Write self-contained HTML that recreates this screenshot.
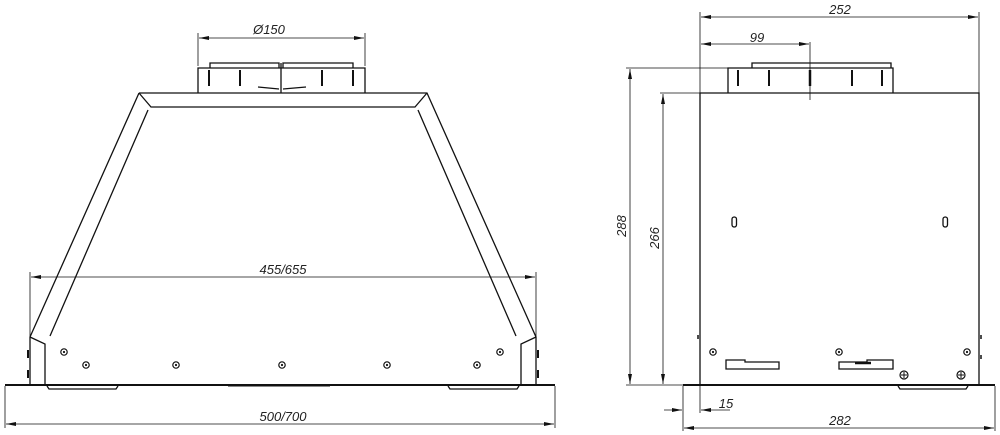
<!DOCTYPE html>
<html><head><meta charset="utf-8"><style>
html,body{margin:0;padding:0;background:#fff}
svg{display:block}
text{font-family:"Liberation Sans",sans-serif;font-style:italic;font-size:13px;fill:#222}
</style></head><body>
<svg width="1000" height="435" viewBox="0 0 1000 435" xmlns="http://www.w3.org/2000/svg">
<defs>
<marker id="a" viewBox="0 0 10 4" refX="10" refY="2" markerWidth="10" markerHeight="4" orient="auto-start-reverse" markerUnits="userSpaceOnUse"><path d="M0,0L10,2L0,4z" fill="#111"/></marker>
</defs>
<g stroke="#111" fill="none" stroke-width="1.3">
<!-- LEFT VIEW -->
<!-- collar -->
<path d="M198,93V68H365V93"/>
<path d="M210,68V63H279V68M283,68V63H353V68"/>
<path d="M281,63V93"/>
<path d="M209,70V86M240,70V86M322,70V86M353,70V86" stroke-width="2"/>
<path d="M258,87L279,89M283,89L306,87"/>
<!-- trapezoid -->
<path d="M139,93H427L536,337V385M139,93L30,337V385"/>
<path d="M139,93L151,107H415L427,93"/>
<path d="M148,110L50,336M418,110L516,336"/>
<path d="M30,337L45,344V385M536,337L521,344V385"/>
<path d="M5,385H555" stroke-width="2"/>
<path d="M47,386L49,389H116L118,386M448,386L450,389H517L519,386"/>
<path d="M228,386H330" stroke-width="1"/>
<!-- lips -->
<path d="M28,350v8M28,370v8M538,350v8M538,370v8" stroke-width="2"/>
<!-- holes -->
<g stroke-width="1.2">
<circle cx="64" cy="352" r="3.2"/><circle cx="86" cy="365" r="3.2"/><circle cx="176" cy="365" r="3.2"/><circle cx="282" cy="365" r="3.2"/><circle cx="387" cy="365" r="3.2"/><circle cx="477" cy="365" r="3.2"/><circle cx="500" cy="352" r="3.2"/>
</g>
<g fill="#111" stroke="none"><circle cx="64" cy="352" r="1.1"/><circle cx="86" cy="365" r="1.1"/><circle cx="176" cy="365" r="1.1"/><circle cx="282" cy="365" r="1.1"/><circle cx="387" cy="365" r="1.1"/><circle cx="477" cy="365" r="1.1"/><circle cx="500" cy="352" r="1.1"/></g>
<!-- dims -->
<g stroke-width="0.8">
<path d="M198,33V66M365,33V66"/>
<path d="M199,38H364" marker-start="url(#a)" marker-end="url(#a)"/>
<path d="M30,272V337M536,272V337"/>
<path d="M31,277H535" marker-start="url(#a)" marker-end="url(#a)"/>
<path d="M5,386V428M555,386V428"/>
<path d="M6,424H554" marker-start="url(#a)" marker-end="url(#a)"/>
</g>

<!-- RIGHT VIEW -->
<path d="M700,385V93H979V385"/>
<path d="M728,93V68H893V93M752,68V63H891V68"/>
<path d="M738,70V86M769,70V86M852,70V86M882,70V86" stroke-width="2"/>
<path d="M810,70V86" stroke-width="2.5"/>
<path d="M683,385H995" stroke-width="2"/>
<path d="M898,386L900,389H966L968,386"/>
<rect x="732" y="217" width="4.5" height="10" rx="2.2"/>
<rect x="943" y="217" width="4.5" height="10" rx="2.2"/>
<path d="M726,360H745V362H779V369H726Z"/>
<path d="M839,362H867V360H893V369H839Z"/>
<path d="M855,363H871" stroke-width="2.5"/>
<g stroke-width="1.2"><circle cx="713" cy="352" r="3.2"/><circle cx="839" cy="352" r="3.2"/><circle cx="967" cy="352" r="3.2"/><circle cx="904" cy="375" r="4"/><circle cx="961" cy="375" r="4"/></g>
<g fill="#111" stroke="none"><circle cx="713" cy="352" r="1.1"/><circle cx="839" cy="352" r="1.1"/><circle cx="967" cy="352" r="1.1"/></g>
<path d="M901,375h6M904,372v6M958,375h6M961,372v6" stroke-width="1"/>
<path d="M698,335v4M981,335v4M981,355v4" stroke-width="1.5"/>
<g stroke-width="0.8">
<path d="M700,12V93M979,12V93"/>
<path d="M701,17H978" marker-start="url(#a)" marker-end="url(#a)"/>
<path d="M701,44H809" marker-start="url(#a)" marker-end="url(#a)"/>
<path d="M810,42V100"/>
<path d="M626,68H752M660,93H700M626,385H683"/>
<path d="M630,69V384" marker-start="url(#a)" marker-end="url(#a)"/>
<path d="M663,94V384" marker-start="url(#a)" marker-end="url(#a)"/>
<path d="M683,386V431M995,386V431M700,386V413"/>
<path d="M684,428H994" marker-start="url(#a)" marker-end="url(#a)"/>
<path d="M664,410H682" marker-end="url(#a)"/>
<path d="M730,410H701" marker-end="url(#a)"/>
</g>
</g>
<text x="269" y="34" text-anchor="middle">Ø150</text>
<text x="283" y="274" text-anchor="middle">455/655</text>
<text x="283" y="421" text-anchor="middle">500/700</text>
<text x="840" y="14" text-anchor="middle">252</text>
<text x="757" y="42" text-anchor="middle">99</text>
<text x="726" y="408" text-anchor="middle">15</text>
<text x="840" y="425" text-anchor="middle">282</text>
<text transform="translate(626,226) rotate(-90)" text-anchor="middle">288</text>
<text transform="translate(659,238) rotate(-90)" text-anchor="middle">266</text>
</svg>
</body></html>
